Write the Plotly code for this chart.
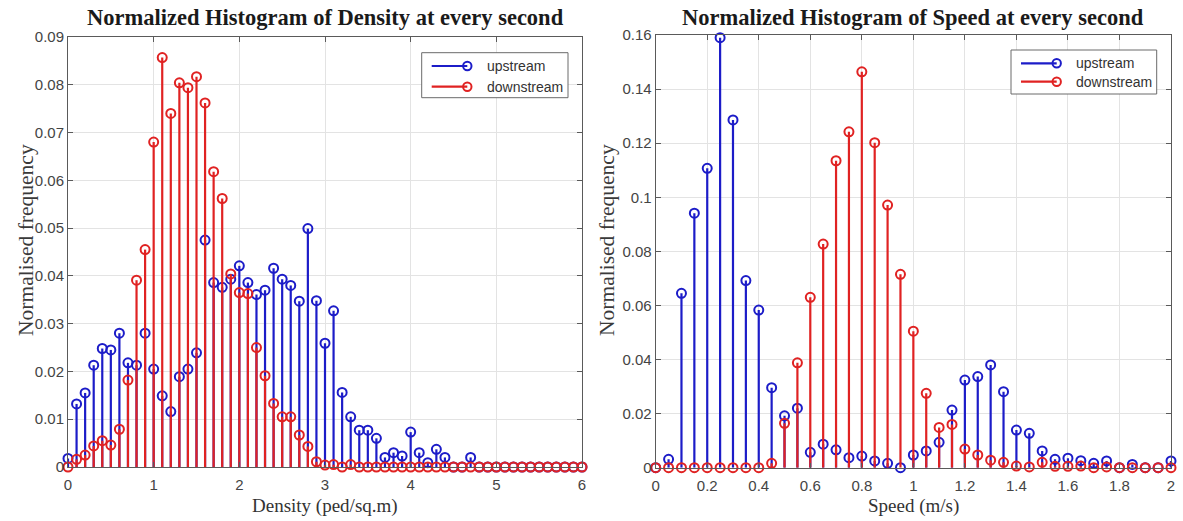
import numpy as np
import plotly.graph_objects as go

# ---------------- data ----------------
density_bins = np.round(np.arange(0, 6.001, 0.1), 2)
density_up = [0.0018, 0.0132, 0.0155, 0.0213, 0.0248, 0.0245, 0.0280, 0.0218, 0.0213, 0.0280,
              0.0205, 0.0149, 0.0116, 0.0189, 0.0205, 0.0239, 0.0475, 0.0386, 0.0376, 0.0393,
              0.0421, 0.0386, 0.0361, 0.0370, 0.0416, 0.0393, 0.0380, 0.0347, 0.0499, 0.0348,
              0.0259, 0.0327, 0.0156, 0.0105, 0.0077, 0.0077, 0.0060, 0.0020, 0.0030, 0.0023,
              0.0073, 0.0030, 0.0009, 0.0037, 0.0020, 0.0, 0.0, 0.0020,
              0, 0, 0, 0, 0, 0, 0, 0, 0, 0, 0, 0, 0]
density_down = [0.0, 0.0016, 0.0025, 0.0044, 0.0055, 0.0046, 0.0079, 0.0182, 0.0391, 0.0455,
                0.0680, 0.0857, 0.0740, 0.0804, 0.0794, 0.0817, 0.0762, 0.0618, 0.0562, 0.0404,
                0.0365, 0.0363, 0.0250, 0.0191, 0.0133, 0.0105, 0.0105, 0.0067, 0.0043, 0.0011,
                0.0004, 0.0005, 0.0, 0.0005,
                0, 0, 0, 0, 0, 0, 0, 0, 0, 0, 0, 0, 0, 0, 0, 0, 0, 0, 0, 0, 0, 0, 0, 0, 0, 0, 0]

speed_bins = np.round(np.arange(0, 2.0001, 0.05), 2)
speed_up = [0.0, 0.0031, 0.0645, 0.0941, 0.1107, 0.1590, 0.1286, 0.0692, 0.0583, 0.0296,
            0.0192, 0.0220, 0.0057, 0.0087, 0.0066, 0.0037, 0.0043, 0.0025, 0.0016, 0.0,
            0.0047, 0.0062, 0.0094, 0.0213, 0.0324, 0.0337, 0.0380, 0.0281, 0.0139, 0.0127,
            0.0062, 0.0031, 0.0035, 0.0026, 0.0016, 0.0025, 0.0, 0.0012, 0.0, 0.0, 0.0025]
speed_down = [0, 0, 0, 0, 0, 0, 0, 0, 0, 0.0016,
              0.0164, 0.0388, 0.0630, 0.0827, 0.1135, 0.1242, 0.1464, 0.1202, 0.0971, 0.0715,
              0.0505, 0.0275, 0.0149, 0.0160, 0.0069, 0.0047, 0.0028, 0.0020, 0.0006, 0.0003,
              0.0020, 0.0005, 0.0005, 0.0006, 0.0, 0.0003, 0, 0, 0, 0, 0]

series_names = ["upstream", "downstream"]
titles = ["Normalized Histogram of Density at every second",
          "Normalized Histogram of Speed at every second"]
x_titles = ["Density (ped/sq.m)", "Speed (m/s)"]
y_title = "Normalised frequency"

BLUE = "#1c1cc8"
RED = "#e02222"

W, H = 1183, 521
def px(x): return x / W
def py(y): return 1 - y / H

fig = go.Figure()

def stem(x, y, color, name, xa, ya):
    y = np.asarray(y, dtype=float)
    fig.add_trace(go.Scatter(
        x=x, y=y, mode="markers", name=name, showlegend=False,
        xaxis=xa, yaxis=ya, cliponaxis=False, hoverinfo="skip",
        marker=dict(symbol="circle-open", size=9, color=color, line=dict(width=2, color=color)),
        error_y=dict(type="data", symmetric=False, array=np.zeros_like(y), arrayminus=y,
                     width=0, thickness=2.2, color=color),
    ))

stem(density_bins, density_up, BLUE, series_names[0], "x", "y")
stem(density_bins, density_down, RED, series_names[1], "x", "y")
stem(speed_bins, speed_up, BLUE, series_names[0], "x2", "y2")
stem(speed_bins, speed_down, RED, series_names[1], "x2", "y2")

axis_common = dict(showgrid=True, gridcolor="#e3e3e3", gridwidth=1, zeroline=False,
                   showline=True, linecolor="#5a5a5a", linewidth=1, mirror="ticks",
                   ticks="inside", ticklen=5, tickcolor="#5a5a5a", automargin=False,
                   tickfont=dict(family="Liberation Sans", size=15, color="#444444"))

dom1x = [px(68), px(582)]
dom1y = [py(467), py(37)]
dom2x = [px(655.7), px(1171)]
dom2y = [py(467.7), py(35)]

fig.update_layout(
    width=W, height=H, margin=dict(l=0, r=0, t=0, b=0, autoexpand=False),
    paper_bgcolor="white", plot_bgcolor="white", showlegend=False,
    xaxis=dict(domain=dom1x, range=[0, 6], dtick=1, anchor="y", ticklabelstandoff=4, **axis_common),
    yaxis=dict(domain=dom1y, range=[0, 0.09], dtick=0.01, anchor="x", **axis_common),
    xaxis2=dict(domain=dom2x, range=[0, 2], dtick=0.2, anchor="y2", ticklabelstandoff=4, **axis_common),
    yaxis2=dict(domain=dom2y, range=[0, 0.16], dtick=0.02, anchor="x2", **axis_common),
)

ann = []
# titles
for i, (dx, t) in enumerate(zip([dom1x, dom2x], titles)):
    ann.append(dict(text="<b>%s</b>" % t, x=(dx[0] + dx[1]) / 2, y=py(17), xref="paper", yref="paper",
                    showarrow=False, xanchor="center", yanchor="middle",
                    font=dict(family="Liberation Serif", size=22.5, color="#1a1a1a")))
# x titles
for dx, t in zip([dom1x, dom2x], x_titles):
    ann.append(dict(text=t, x=(dx[0] + dx[1]) / 2, y=py(506), xref="paper", yref="paper",
                    showarrow=False, xanchor="center", yanchor="middle",
                    font=dict(family="Liberation Serif", size=19, color="#333333")))
# y titles
for xc in [26, 607]:
    ann.append(dict(text=y_title, x=px(xc), y=py(240), xref="paper", yref="paper",
                    showarrow=False, xanchor="center", yanchor="middle", textangle=-90,
                    font=dict(family="Liberation Serif", size=21.5, color="#3a3a3a")))

shapes = []
# manual MATLAB-style legends
legends = [dict(box=(421.7, 52.7, 568, 97.7), rows=(66, 86.7), lx=(431.7, 467.3), tx=485),
           dict(box=(1011, 50, 1156.7, 94), rows=(63.3, 81.7), lx=(1021, 1056.7), tx=1074)]
for lg in legends:
    x0, y0, x1, y1 = lg["box"]
    shapes.append(dict(type="rect", xref="paper", yref="paper", x0=px(x0), x1=px(x1),
                       y0=py(y1), y1=py(y0), line=dict(color="#6a6a6a", width=1), fillcolor="white",
                       layer="above"))
    for yr, col, nm in zip(lg["rows"], [BLUE, RED], series_names):
        shapes.append(dict(type="line", xref="paper", yref="paper", x0=px(lg["lx"][0]), x1=px(lg["lx"][1]),
                           y0=py(yr), y1=py(yr), line=dict(color=col, width=2.2), layer="above"))
        r = 4.2
        shapes.append(dict(type="circle", xref="paper", yref="paper",
                           x0=px(lg["lx"][1] - r), x1=px(lg["lx"][1] + r),
                           y0=py(yr + r), y1=py(yr - r), line=dict(color=col, width=2),
                           fillcolor="rgba(0,0,0,0)", layer="above"))
        ann.append(dict(text=nm, x=px(lg["tx"]), y=py(yr), xref="paper", yref="paper",
                        showarrow=False, xanchor="left", yanchor="middle",
                        font=dict(family="Liberation Sans", size=14, color="#333333")))

fig.update_layout(annotations=ann, shapes=shapes)
fig.write_html("out.html", config={"displayModeBar": False},
               post_script="document.body.style.margin='0';document.body.style.overflow='hidden';")
